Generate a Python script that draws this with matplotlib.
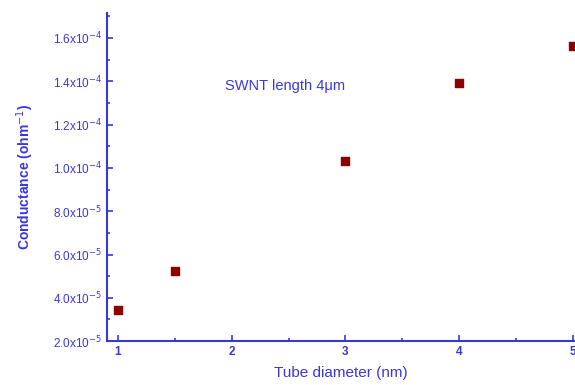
import matplotlib
matplotlib.use('Agg')
import matplotlib.pyplot as plt
from matplotlib.ticker import MultipleLocator, FuncFormatter

plt.rcParams['font.family'] = ['Liberation Sans', 'DejaVu Sans']

diameter = [1.0, 1.5, 3.0, 4.0, 5.0]               # nm
conductance = [3.43e-5, 5.23e-5, 1.031e-4, 1.392e-4, 1.563e-4]  # ohm^-1

blue = '#3838d8'

fig = plt.figure(figsize=(5.75, 3.85), dpi=100)
ax = fig.add_axes([0.186, 0.114, 0.814, 0.852])

ax.scatter(diameter, conductance, marker='s', s=30, color='#8b0000', zorder=3)

ax.set_xlim(0.903, 5.02)
ax.set_ylim(2.0e-5, 1.715e-4)

ax.xaxis.set_major_locator(MultipleLocator(1))
ax.xaxis.set_minor_locator(MultipleLocator(0.5))
ax.yaxis.set_major_locator(MultipleLocator(2e-5))
ax.yaxis.set_minor_locator(MultipleLocator(1e-5))

def fmt(v, pos):
    e = -4 if v >= 1e-4 - 1e-12 else -5
    m = v / 10**e
    return r'%.1fx10$^{%d}$' % (m, e)

ax.yaxis.set_major_formatter(FuncFormatter(fmt))

for s in ['top', 'right']:
    ax.spines[s].set_visible(False)
for s in ['left', 'bottom']:
    ax.spines[s].set_color(blue)
    ax.spines[s].set_linewidth(1.5)

ax.tick_params(which='both', direction='in', colors=blue, width=1.2)
ax.tick_params(which='major', length=4, labelsize=8.5)
ax.tick_params(which='minor', length=2.5)
for lab in ax.get_xticklabels():
    lab.set_fontweight('bold')

ax.set_xlabel('Tube diameter (nm)', color=blue, fontsize=11, labelpad=6)
ax.set_ylabel('Conductance (ohm$^{-1}$)', color=blue, fontsize=10,
              fontweight='bold', labelpad=12)

ax.text(1.94, 1.378e-4, 'SWNT length 4\u03bcm', color=blue, fontsize=10.5,
        va='center')

fig.savefig('out.png', dpi=100)
